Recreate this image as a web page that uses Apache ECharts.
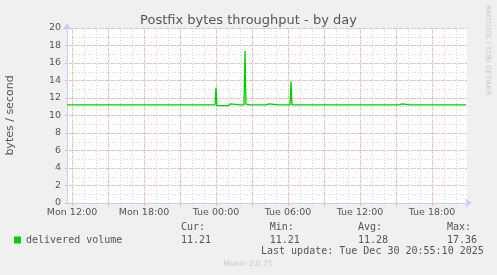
<!DOCTYPE html>
<html>
<head>
<meta charset="utf-8">
<script src="https://cdn.jsdelivr.net/npm/echarts@6/dist/echarts.min.js"></script>
<style>html,body{margin:0;padding:0;background:#f0f0f0;}#c{width:497px;height:275px;}</style>
</head>
<body>
<div id="c"></div>
<script>
// time in hours since Mon 00:00, values in bytes/second
const times = [11.58,
 11.90,11.98,12.06, 12.75,12.83,12.92, 13.28,13.36,13.44, 13.92,14.00,14.08,
 14.44,14.52,14.60, 14.95,15.03,15.11, 15.78,15.86,15.94, 16.67,16.75,16.83,
 17.34,17.42,17.50, 18.00,18.08,18.16, 18.61,18.69,18.77, 19.34,19.42,19.50,
 19.67,19.75,19.83, 20.09,20.17,20.25, 21.04,21.12,21.20, 22.84,22.92,23.00,
 23.59,23.67,23.75, 23.92,24.00,24.08, 25.00,25.13,25.21,25.29,
 26.00,26.08,26.16, 26.33,26.42,26.50,26.58, 26.84,26.92,27.00,
 27.67,27.75,27.83, 28.17,28.25,28.42,28.50, 29.25,29.33,29.41,
 30.17,30.25,30.33, 30.92,31.00,31.08, 31.50,31.58,31.66, 32.17,32.25,32.33,
 32.84,32.92,33.00, 33.59,33.67,33.75, 34.13,34.21,34.29, 34.84,34.92,35.00,
 35.50,35.58,35.66, 36.21,36.29,36.37, 36.75,36.83,36.91, 37.38,37.46,37.54,
 38.21,38.29,38.37, 39.25,39.33,39.50,39.58, 40.25,40.33,40.41,
 40.92,41.00,41.08, 41.63,41.71,41.79, 42.34,42.42,42.50, 43.00,43.08,43.16,
 43.84,43.92,44.00, 44.38,44.46,44.54, 44.83];
const values = [11.21,
 11.21,11.33,11.21, 11.21,11.33,11.21, 11.21,11.33,11.21, 11.21,11.33,11.21,
 11.21,11.33,11.21, 11.21,11.33,11.21, 11.21,11.33,11.21, 11.21,11.33,11.21,
 11.21,11.33,11.21, 11.21,11.33,11.21, 11.21,11.33,11.21, 11.21,11.33,11.21,
 11.21,11.33,11.21, 11.21,11.33,11.21, 11.21,11.33,11.21, 11.21,11.33,11.21,
 11.21,11.33,11.21, 11.21,13.20,11.12, 11.12,11.21,11.33,11.21,
 11.21,11.33,11.21, 11.21,17.36,11.30,11.21, 11.21,11.33,11.21,
 11.21,11.33,11.21, 11.21,11.33,11.33,11.21, 11.21,11.33,11.21,
 11.21,13.90,11.21, 11.21,11.33,11.21, 11.21,11.33,11.21, 11.21,11.33,11.21,
 11.21,11.33,11.21, 11.21,11.33,11.21, 11.21,11.33,11.21, 11.21,11.33,11.21,
 11.21,11.33,11.21, 11.21,11.33,11.21, 11.21,11.33,11.21, 11.21,11.33,11.21,
 11.21,11.33,11.21, 11.21,11.33,11.33,11.21, 11.21,11.33,11.21,
 11.21,11.33,11.21, 11.21,11.33,11.21, 11.21,11.33,11.21, 11.21,11.33,11.21,
 11.21,11.33,11.21, 11.21,11.33,11.21, 11.21];
const xStart = 11 + 35/60;   // Mon 11:35
const xEnd = 44 + 55/60;     // Tue 20:55
const hourTicks = [12,13,14,15,16,17,18,19,20,21,22,23,24,25,26,27,28,29,30,31,32,33,34,35,36,37,38,39,40,41,42,43,44];
const majorTicks = [12,15,18,21,24,27,30,33,36,39,42];
const labelHours = [12,18,24,30,36,42];
const labelTexts = ['Mon 12:00','Mon 18:00','Tue 00:00','Tue 06:00','Tue 12:00','Tue 18:00'];
const statNames = ['Cur:','Min:','Avg:','Max:'];
const statValues = ['11.21','11.21','11.28','17.36'];
const seriesName = 'delivered volume';
const lastUpdate = 'Last update: Tue Dec 30 20:55:10 2025';

const data = times.map((t,i)=>[t, values[i]]);
const chart = echarts.init(document.getElementById('c'), null, {renderer:'canvas'});
const grid = {left:67, top:28, width:400, height:175, show:true, backgroundColor:'#ffffff', borderWidth:0, containLabel:false, outerBoundsMode:'none'};
const axisCol = '#c8d0f4';
const redGrid = '#efb2b2';
const greyGrid = '#d4d4d4';
const statX = [181, 269.7, 358, 447];
const graphics = [
  {type:'rect', shape:{x:14,y:236.5,width:7,height:7}, style:{fill:'#00cc00'}},
  {type:'text', x:26, y:240, style:{text:seriesName, font:'10px "DejaVu Sans Mono"', fill:'#555', textVerticalAlign:'middle'}},
  {type:'text', x:261, y:251.7, style:{text:lastUpdate, font:'10px "DejaVu Sans Mono"', fill:'#555', textVerticalAlign:'middle'}},
  {type:'text', x:248, y:264, style:{text:'Munin 2.0.75', font:'7.5px "DejaVu Sans"', fill:'#c8c8c8', textAlign:'center', textVerticalAlign:'middle'}},
  {type:'text', x:488, y:5, rotation:-Math.PI/2, style:{text:'RRDTOOL / TOBI OETIKER', font:'7px "DejaVu Sans"', fill:'#c8c8c8', textAlign:'left', textVerticalAlign:'middle'}}
];
statNames.forEach((n,i)=>{
  graphics.push({type:'text', x:statX[i], y:227.7, style:{text:n, font:'10px "DejaVu Sans Mono"', fill:'#555', textVerticalAlign:'middle'}});
  graphics.push({type:'text', x:statX[i], y:240, style:{text:statValues[i], font:'10px "DejaVu Sans Mono"', fill:'#555', textVerticalAlign:'middle'}});
});

chart.setOption({
  backgroundColor:'#f0f0f0',
  animation:false,
  title:{text:'Postfix bytes throughput - by day', left:'center', top:9,
    textStyle:{fontFamily:'DejaVu Sans', fontSize:13, fontWeight:'normal', color:'#555'}},
  grid: grid,
  xAxis:[
    {type:'value', min:xStart, max:xEnd, gridIndex:0, position:'bottom',
     axisLine:{show:false}, axisLabel:{show:false, customValues:hourTicks},
     axisTick:{show:false, customValues:hourTicks},
     splitLine:{show:true, lineStyle:{color:greyGrid, type:[1,2], width:1}}},
    {type:'value', min:xStart, max:xEnd, gridIndex:0, position:'bottom',
     axisLine:{show:true, onZero:false, lineStyle:{color:axisCol, width:1}, symbol:['none','arrow'], symbolSize:[7,7], symbolOffset:[0,5]},
     axisTick:{show:true, customValues:majorTicks, length:3, lineStyle:{color:redGrid}},
     axisLabel:{show:true, customValues:labelHours, fontFamily:'DejaVu Sans', fontSize:9.5, color:'#555', margin:5,
       formatter:(v)=>{const i=labelHours.indexOf(Math.round(v)); return i>=0?labelTexts[i]:'';}},
     splitLine:{show:true, lineStyle:{color:redGrid, type:[1,1], width:1}}}
  ],
  yAxis:[
    {type:'value', min:0, max:20, interval:1, gridIndex:0, position:'left',
     axisLine:{show:false}, axisLabel:{show:false}, axisTick:{show:false},
     splitLine:{show:true, lineStyle:{color:greyGrid, type:[1,2], width:1}}},
    {type:'value', min:0, max:20, interval:2, gridIndex:0, position:'left',
     name:'bytes / second', nameLocation:'middle', nameGap:51, nameRotate:90,
     nameTextStyle:{fontFamily:'DejaVu Sans', fontSize:11, color:'#555'},
     axisLine:{show:true, onZero:false, lineStyle:{color:axisCol, width:1}, symbol:['none','arrow'], symbolSize:[7,7], symbolOffset:[0,5]},
     axisTick:{show:true, length:2, lineStyle:{color:redGrid}},
     axisLabel:{fontFamily:'DejaVu Sans', fontSize:9.5, color:'#555', margin:6},
     splitLine:{show:true, lineStyle:{color:redGrid, type:[1,1], width:1}}}
  ],
  series:[{
    type:'line', name:seriesName, xAxisIndex:0, yAxisIndex:0, data:data,
    showSymbol:false, symbol:'none', lineStyle:{color:'#00cc00', width:1.3}, z:5
  }],
  graphic: graphics
});
</script>
</body>
</html>
